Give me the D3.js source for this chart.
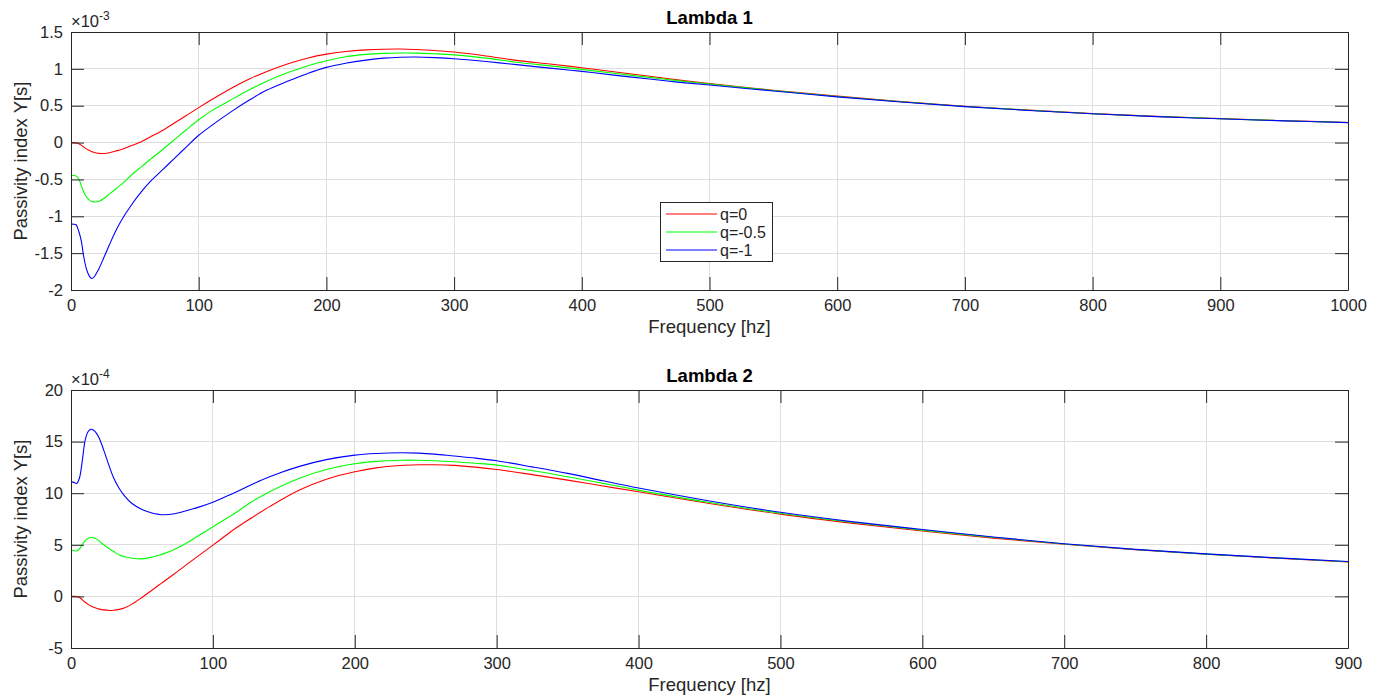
<!DOCTYPE html>
<html><head><meta charset="utf-8">
<script src="https://cdn.jsdelivr.net/npm/d3@7/dist/d3.min.js"></script>
<style>
body{margin:0;background:#fff;}
text{font-family:Arial,"Liberation Sans",Helvetica,sans-serif;}
</style>
</head><body>
<svg id="chart" width="1386" height="700"></svg>
<script>
// ---------- DATA ----------
// Panel 1 (Lambda 1), values in units of 1e-3 s
const freq1 = [0,2,4,6,8,10,12,14,16,18,20,22,26,30,35,40,48,55,62,72,80,90,100,110,127,140,153,170,185,200,215,231,245,258,270,285,300,325,349,375,400,425,453,475,500,550,600,650,700,750,800,850,900,950,1000];
const q0_l1 = [0,0,-0.003,-0.015,-0.035,-0.06,-0.085,-0.105,-0.12,-0.132,-0.141,-0.146,-0.148,-0.138,-0.115,-0.09,-0.037,0.01,0.075,0.167,0.255,0.365,0.474,0.58,0.75,0.865,0.962,1.07,1.145,1.2,1.236,1.258,1.267,1.269,1.262,1.248,1.228,1.175,1.115,1.065,1.016,0.96,0.90,0.85,0.80,0.71,0.63,0.555,0.492,0.44,0.393,0.355,0.325,0.297,0.273];
const q05_l1 = [-0.447,-0.447,-0.455,-0.49,-0.58,-0.67,-0.735,-0.775,-0.797,-0.805,-0.803,-0.795,-0.755,-0.70,-0.63,-0.56,-0.43,-0.33,-0.23,-0.09,0.025,0.17,0.31,0.43,0.596,0.72,0.83,0.95,1.04,1.11,1.165,1.196,1.21,1.215,1.214,1.205,1.19,1.145,1.09,1.04,0.993,0.94,0.885,0.84,0.795,0.705,0.625,0.553,0.49,0.438,0.392,0.354,0.324,0.296,0.272];
const q1_l1 = [-1.107,-1.107,-1.115,-1.2,-1.33,-1.55,-1.71,-1.80,-1.843,-1.825,-1.77,-1.707,-1.55,-1.39,-1.2,-1.04,-0.83,-0.67,-0.53,-0.365,-0.23,-0.065,0.099,0.23,0.437,0.58,0.709,0.835,0.935,1.02,1.075,1.118,1.145,1.157,1.16,1.152,1.138,1.1,1.057,1.01,0.966,0.915,0.862,0.82,0.78,0.70,0.62,0.55,0.488,0.436,0.39,0.352,0.323,0.295,0.271];

// Panel 2 (Lambda 2), values in units of 1e-4 s
const freq2 = [0,2,4,6,8,10,12,14,16,18,20,23,27,30,34,38,43,50,57,62,65,72,80,90,100,110,116,126,140,161,180,200,215,232,245,256,270,285,300,325,350,375,400,450,500,550,600,650,700,750,800,850,900];
const q0_l2 = [0,0,-0.02,-0.1,-0.33,-0.57,-0.77,-0.93,-1.05,-1.15,-1.23,-1.31,-1.36,-1.34,-1.26,-1.1,-0.75,-0.1,0.6,1.1,1.4,2.1,2.93,3.95,4.97,6.0,6.6,7.5,8.7,10.3,11.35,12.07,12.45,12.68,12.75,12.76,12.7,12.53,12.3,11.8,11.27,10.7,10.14,9.0,7.97,7.1,6.33,5.65,5.05,4.53,4.08,3.7,3.33];
const q05_l2 = [4.49,4.45,4.4,4.6,5.05,5.4,5.62,5.71,5.68,5.55,5.35,5.0,4.62,4.35,4.02,3.84,3.7,3.64,3.8,3.98,4.12,4.5,5.05,5.9,6.75,7.6,8.1,9.05,10.15,11.45,12.3,12.85,13.08,13.2,13.2,13.15,13.05,12.9,12.72,12.2,11.59,10.95,10.3,9.1,8.05,7.18,6.42,5.72,5.08,4.55,4.1,3.72,3.36];
const q1_l2 = [11.1,11.05,10.95,11.5,13.2,15.15,15.95,16.2,16.1,15.8,15.3,14.2,12.6,11.5,10.46,9.7,9.0,8.42,8.08,7.95,7.91,7.98,8.25,8.65,9.13,9.72,10.1,10.75,11.6,12.6,13.25,13.69,13.85,13.92,13.88,13.79,13.6,13.4,13.14,12.55,11.92,11.2,10.5,9.25,8.15,7.25,6.48,5.75,5.1,4.56,4.12,3.73,3.38];

const seriesNames = ["q=0","q=-0.5","q=-1"];
const seriesColors = ["#ff0000","#00ff00","#0000ff"];

const xTicks1 = [0,100,200,300,400,500,600,700,800,900,1000];
const yTicks1 = [-2,-1.5,-1,-0.5,0,0.5,1,1.5];
const xTicks2 = [0,100,200,300,400,500,600,700,800,900];
const yTicks2 = [-5,0,5,10,15,20];

const titles = ["Lambda 1","Lambda 2"];
const exponents = ["-3","-4"];
const xLabel = "Frequency [hz]";
const yLabel = "Passivity index Y[s]";

// ---------- DRAW ----------
const svg = d3.select("#chart");
const AX = "#262626";
const GRID = "#dedede";
const TICK = 13;
const left = 71, right = 1348;

function panel(cfg) {
  const g = svg.append("g");
  const x = d3.scaleLinear().domain(cfg.xDomain).range([left, right]);
  const y = d3.scaleLinear().domain(cfg.yDomain).range([cfg.bottom, cfg.top]);

  // grid
  g.append("g").selectAll("line").data(cfg.xTicks).join("line")
    .attr("x1", d => x(d)).attr("x2", d => x(d))
    .attr("y1", cfg.top).attr("y2", cfg.bottom)
    .attr("stroke", GRID).attr("stroke-width", 1).attr("shape-rendering","crispEdges");
  g.append("g").selectAll("line").data(cfg.yTicks).join("line")
    .attr("y1", d => y(d)).attr("y2", d => y(d))
    .attr("x1", left).attr("x2", right)
    .attr("stroke", GRID).attr("stroke-width", 1).attr("shape-rendering","crispEdges");

  // lines
  const line = d3.line().x(d => x(d[0])).y(d => y(d[1])).curve(d3.curveCatmullRom.alpha(0.5));
  cfg.series.forEach((s, i) => {
    g.append("path")
      .datum(cfg.freq.map((f, k) => [f, s[k]]))
      .attr("d", line)
      .attr("fill", "none")
      .attr("stroke", seriesColors[i])
      .attr("stroke-width", 1.1);
  });

  // axes
  const fmt = d => String(d);
  const styleAxis = (sel) => {
    sel.select(".domain").attr("stroke", AX).attr("stroke-width", 1);
    sel.selectAll(".tick line").attr("stroke", AX).attr("stroke-width", 1);
    sel.selectAll("text").attr("fill", AX).attr("font-size", 16.5)
       .attr("font-family", "Arial, 'Liberation Sans', sans-serif");
  };
  g.append("g").attr("transform", `translate(0,${cfg.bottom})`)
    .call(d3.axisBottom(x).tickValues(cfg.xTicks).tickFormat(fmt).tickSizeInner(-TICK).tickSizeOuter(0).tickPadding(9))
    .call(styleAxis);
  g.append("g").attr("transform", `translate(0,${cfg.top})`)
    .call(d3.axisTop(x).tickValues(cfg.xTicks).tickFormat("").tickSizeInner(-TICK).tickSizeOuter(0))
    .call(styleAxis);
  g.append("g").attr("transform", `translate(${left},0)`)
    .call(d3.axisLeft(y).tickValues(cfg.yTicks).tickFormat(fmt).tickSizeInner(-TICK).tickSizeOuter(0).tickPadding(8))
    .call(styleAxis);
  g.append("g").attr("transform", `translate(${right},0)`)
    .call(d3.axisRight(y).tickValues(cfg.yTicks).tickFormat("").tickSizeInner(-TICK).tickSizeOuter(0))
    .call(styleAxis);

  // title
  g.append("text").attr("x", (left + right) / 2).attr("y", cfg.top - 8)
    .attr("text-anchor", "middle").attr("font-weight", "bold").attr("font-size", 18.5)
    .attr("fill", "#000").text(cfg.title);

  // exponent
  const ex = g.append("text").attr("x", left).attr("y", cfg.top - 5)
    .attr("fill", AX).attr("font-size", 16.5);
  ex.append("tspan").text("×10");
  ex.append("tspan").attr("dy", -7).attr("font-size", 12).text(cfg.exponent);

  // x label
  g.append("text").attr("x", (left + right) / 2).attr("y", cfg.bottom + 43)
    .attr("text-anchor", "middle").attr("font-size", 18.5).attr("fill", AX).text(xLabel);
  // y label
  g.append("text")
    .attr("transform", `translate(27,${(cfg.top + cfg.bottom) / 2}) rotate(-90)`)
    .attr("text-anchor", "middle").attr("font-size", 18.5).attr("fill", AX).text(yLabel);

  return {x, y, g};
}

panel({top: 32, bottom: 290, xDomain: [0, 1000], yDomain: [-2, 1.5],
  xTicks: xTicks1, yTicks: yTicks1, freq: freq1, series: [q0_l1, q05_l1, q1_l1],
  title: titles[0], exponent: exponents[0]});
panel({top: 390, bottom: 648, xDomain: [0, 900], yDomain: [-5, 20],
  xTicks: xTicks2, yTicks: yTicks2, freq: freq2, series: [q0_l2, q05_l2, q1_l2],
  title: titles[1], exponent: exponents[1]});

// legend (panel 1)
const lg = svg.append("g").attr("transform", "translate(660,202)");
lg.append("rect").attr("x", 0.5).attr("y", 0.5).attr("width", 112).attr("height", 59)
  .attr("fill", "#fff").attr("stroke", AX).attr("stroke-width", 1);
seriesNames.forEach((n, i) => {
  const yy = 12 + i * 18;
  lg.append("line").attr("x1", 6).attr("x2", 57).attr("y1", yy).attr("y2", yy)
    .attr("stroke", seriesColors[i]).attr("stroke-width", 1.1);
  lg.append("text").attr("x", 60).attr("y", yy + 5.5).attr("font-size", 16)
    .attr("fill", AX).text(n);
});
</script>
</body></html>
